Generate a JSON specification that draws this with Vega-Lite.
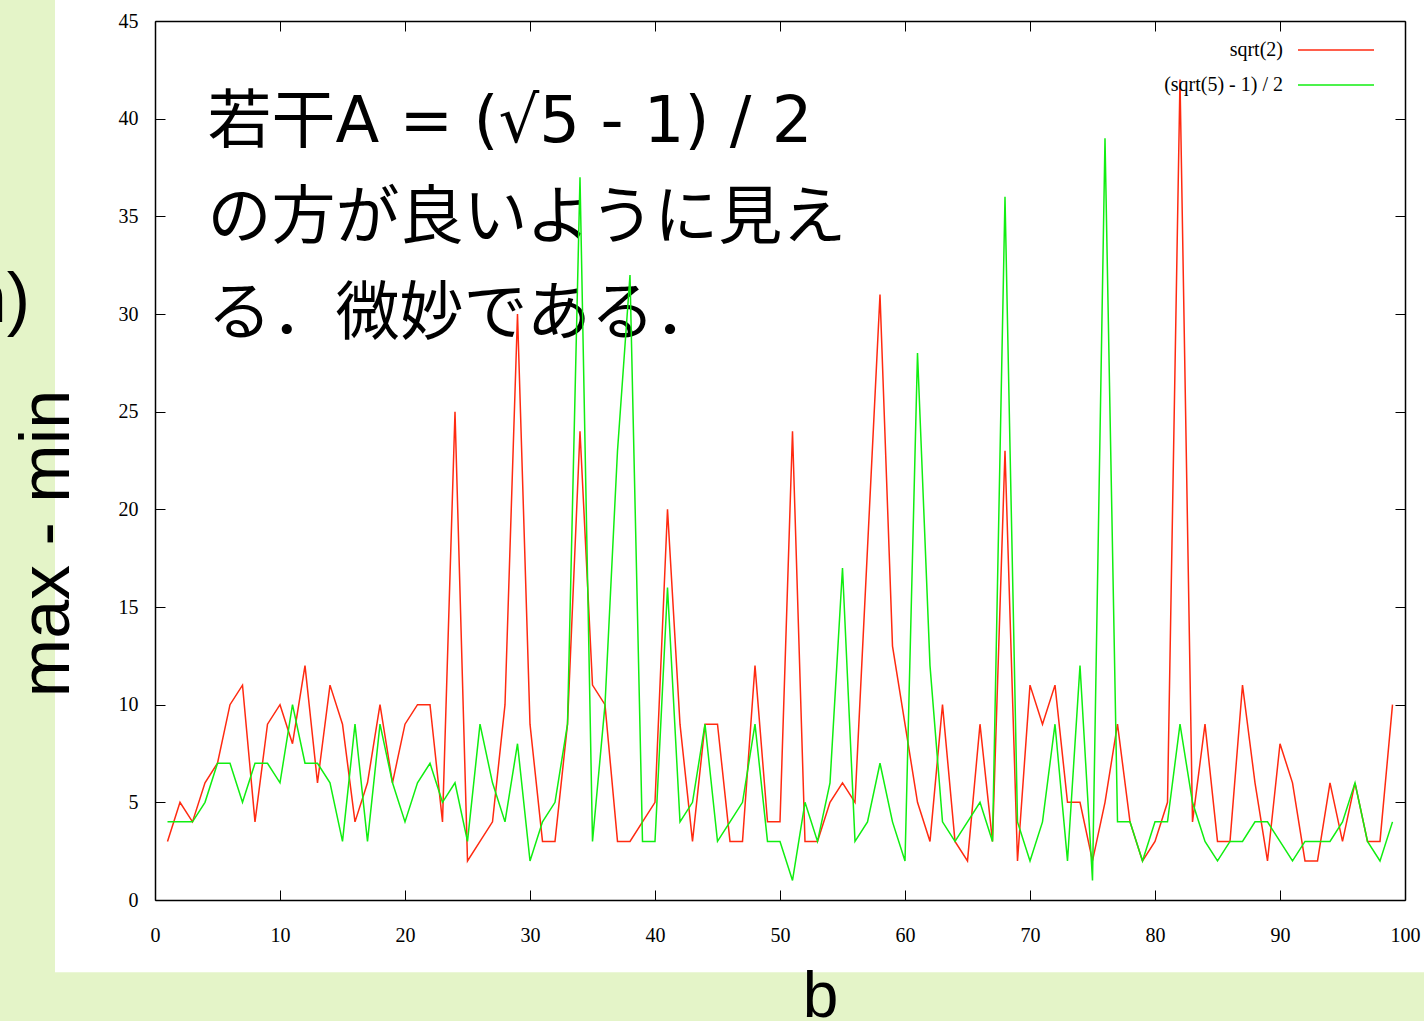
{
  "$schema": "https://vega.github.io/schema/vega-lite/v6.json",
  "width": 1250,
  "height": 879,
  "autosize": {"type": "none"},
  "padding": {"left": 155, "top": 21, "right": 19, "bottom": 121},
  "background": "#e4f4c8",
  "config": {
    "view": {"stroke": null},
    "axis": {
      "grid": false,
      "domainColor": "black",
      "domainWidth": 1.5,
      "tickColor": "black",
      "tickWidth": 1,
      "tickSize": -10,
      "labelFont": "Liberation Serif",
      "labelFontSize": 20,
      "labelColor": "black",
      "labelFlush": false,
      "labelOverlap": false
    }
  },
  "datasets": {
    "main": [
      {"b":1,"r":3,"g":4},{"b":2,"r":5,"g":4},{"b":3,"r":4,"g":4},{"b":4,"r":6,"g":5},{"b":5,"r":7,"g":7},
      {"b":6,"r":10,"g":7},{"b":7,"r":11,"g":5},{"b":8,"r":4,"g":7},{"b":9,"r":9,"g":7},{"b":10,"r":10,"g":6},
      {"b":11,"r":8,"g":10},{"b":12,"r":12,"g":7},{"b":13,"r":6,"g":7},{"b":14,"r":11,"g":6},{"b":15,"r":9,"g":3},
      {"b":16,"r":4,"g":9},{"b":17,"r":6,"g":3},{"b":18,"r":10,"g":9},{"b":19,"r":6,"g":6},{"b":20,"r":9,"g":4},
      {"b":21,"r":10,"g":6},{"b":22,"r":10,"g":7},{"b":23,"r":4,"g":5},{"b":24,"r":25,"g":6},{"b":25,"r":2,"g":3},
      {"b":26,"r":3,"g":9},{"b":27,"r":4,"g":6},{"b":28,"r":10,"g":4},{"b":29,"r":30,"g":8},{"b":30,"r":9,"g":2},
      {"b":31,"r":3,"g":4},{"b":32,"r":3,"g":5},{"b":33,"r":9,"g":9},{"b":34,"r":24,"g":37},{"b":35,"r":11,"g":3},
      {"b":36,"r":10,"g":10},{"b":37,"r":3,"g":23},{"b":38,"r":3,"g":32},{"b":39,"r":4,"g":3},{"b":40,"r":5,"g":3},
      {"b":41,"r":20,"g":16},{"b":42,"r":9,"g":4},{"b":43,"r":3,"g":5},{"b":44,"r":9,"g":9},{"b":45,"r":9,"g":3},
      {"b":46,"r":3,"g":4},{"b":47,"r":3,"g":5},{"b":48,"r":12,"g":9},{"b":49,"r":4,"g":3},{"b":50,"r":4,"g":3},
      {"b":51,"r":24,"g":1},{"b":52,"r":3,"g":5},{"b":53,"r":3,"g":3},{"b":54,"r":5,"g":6},{"b":55,"r":6,"g":17},
      {"b":56,"r":5,"g":3},{"b":57,"r":18,"g":4},{"b":58,"r":31,"g":7},{"b":59,"r":13,"g":4},{"b":60,"r":9,"g":2},
      {"b":61,"r":5,"g":28},{"b":62,"r":3,"g":12},{"b":63,"r":10,"g":4},{"b":64,"r":3,"g":3},{"b":65,"r":2,"g":4},
      {"b":66,"r":9,"g":5},{"b":67,"r":3,"g":3},{"b":68,"r":23,"g":36},{"b":69,"r":2,"g":4},{"b":70,"r":11,"g":2},
      {"b":71,"r":9,"g":4},{"b":72,"r":11,"g":9},{"b":73,"r":5,"g":2},{"b":74,"r":5,"g":12},{"b":75,"r":2,"g":1},
      {"b":76,"r":5,"g":39},{"b":77,"r":9,"g":4},{"b":78,"r":4,"g":4},{"b":79,"r":2,"g":2},{"b":80,"r":3,"g":4},
      {"b":81,"r":5,"g":4},{"b":82,"r":42,"g":9},{"b":83,"r":4,"g":5},{"b":84,"r":9,"g":3},{"b":85,"r":3,"g":2},
      {"b":86,"r":3,"g":3},{"b":87,"r":11,"g":3},{"b":88,"r":6,"g":4},{"b":89,"r":2,"g":4},{"b":90,"r":8,"g":3},
      {"b":91,"r":6,"g":2},{"b":92,"r":2,"g":3},{"b":93,"r":2,"g":3},{"b":94,"r":6,"g":3},{"b":95,"r":3,"g":4},
      {"b":96,"r":6,"g":6},{"b":97,"r":3,"g":3},{"b":98,"r":3,"g":2},{"b":99,"r":10,"g":4}
    ],
    "one": [{}]
  },
  "layer": [
    {
      "data": {"name": "one"},
      "mark": {"type": "rect", "color": "white", "clip": false},
      "encoding": {
        "x": {"datum": -8, "type": "quantitative", "scale": {"domain": [0, 100]}, "axis": null},
        "x2": {"datum": 101.6},
        "y": {"datum": -3.7, "type": "quantitative", "scale": {"domain": [0, 45]}, "axis": null},
        "y2": {"datum": 46.1}
      }
    },
    {
      "data": {"name": "one"},
      "mark": {"type": "text", "text": ["若干A = (√5 - 1) / 2", "の方が良いように見え", "る．微妙である．"], "font": "DejaVu Sans, Noto Sans CJK JP", "fontSize": 64, "lineHeight": 96, "align": "left", "baseline": "middle", "color": "black", "clip": false},
      "encoding": {
        "x": {"datum": 4.2, "type": "quantitative", "axis": null},
        "y": {"datum": 39.8, "type": "quantitative", "axis": null}
      }
    },
    {
      "data": {"name": "one"},
      "mark": {"type": "text", "text": "n)", "font": "Liberation Sans", "fontSize": 70, "align": "right", "baseline": "alphabetic", "color": "black", "clip": false},
      "encoding": {
        "x": {"datum": -10, "type": "quantitative", "axis": null},
        "y": {"datum": 29.6, "type": "quantitative", "axis": null}
      }
    },
    {
      "data": {"name": "main"},
      "transform": [{"fold": ["r", "g"], "as": ["s", "v"]}],
      "mark": {"type": "line", "strokeWidth": 1.5},
      "encoding": {
        "x": {"field": "b", "type": "quantitative", "scale": {"domain": [0, 100]},
          "axis": {"orient": "bottom", "zindex": 1, "values": [0,10,20,30,40,50,60,70,80,90,100], "format": "d", "labelPadding": 35,
            "title": "b", "titleFont": "Liberation Sans", "titleFontSize": 64, "titleFontWeight": "normal", "titleColor": "black",
            "titleX": 665, "titleY": 116, "titleAlign": "center", "titleBaseline": "alphabetic"}},
        "y": {"field": "v", "type": "quantitative", "scale": {"domain": [0, 45]},
          "axis": {"orient": "left", "zindex": 1, "values": [0,5,10,15,20,25,30,35,40,45], "format": "d", "labelPadding": 27,
            "title": "max - min", "titleFont": "Liberation Sans", "titleFontSize": 70, "titleFontWeight": "normal", "titleColor": "black",
            "titleAngle": -90, "titleX": -87, "titleY": 522, "titleAlign": "center", "titleBaseline": "alphabetic"}},
        "color": {"field": "s", "type": "nominal",
          "scale": {"domain": ["r", "g"], "range": ["#ff2a10", "#10ee10"]},
          "legend": {"orient": "none", "legendX": 1163.5, "legendY": 11.5, "title": null, "padding": 0,
            "labelExpr": "datum.value == 'r' ? 'sqrt(2)' : '(sqrt(5) - 1) / 2'",
            "symbolType": "M-2.303,0H2.303", "symbolSize": 1089, "symbolStrokeWidth": 1.5,
            "labelAlign": "right", "labelOffset": -70.5, "labelFont": "Liberation Serif", "labelFontSize": 20, "labelColor": "black",
            "rowPadding": 7}}
      }
    },
    {
      "data": {"name": "main"},
      "mark": {"type": "point", "opacity": 0},
      "encoding": {
        "x": {"field": "b", "type": "quantitative", "scale": {"domain": [0, 100]},
          "axis": {"orient": "top", "zindex": 1, "values": [0,10,20,30,40,50,60,70,80,90,100], "labels": false, "title": null}},
        "y": {"field": "r", "type": "quantitative", "scale": {"domain": [0, 45]},
          "axis": {"orient": "right", "zindex": 1, "values": [0,5,10,15,20,25,30,35,40,45], "labels": false, "title": null}}
      }
    }
  ],
  "resolve": {"axis": {"x": "independent", "y": "independent"}}
}
